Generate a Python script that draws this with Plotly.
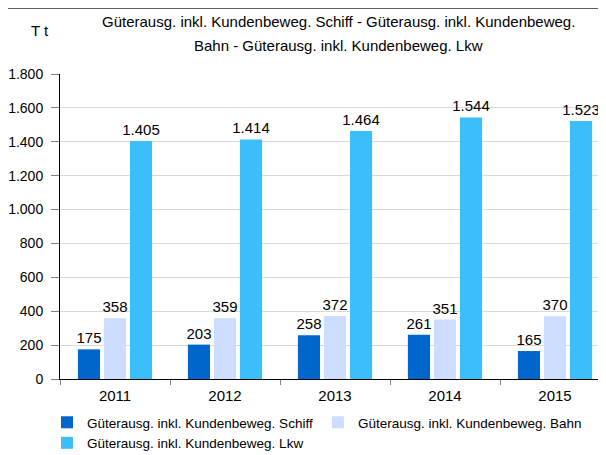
import plotly.graph_objects as go

years = ["2011", "2012", "2013", "2014", "2015"]
schiff = [175, 203, 258, 261, 165]
bahn = [358, 359, 372, 351, 370]
lkw = [1405, 1414, 1464, 1544, 1523]
names = ["Güterausg. inkl. Kundenbeweg. Schiff",
         "Güterausg. inkl. Kundenbeweg. Bahn",
         "Güterausg. inkl. Kundenbeweg. Lkw"]
title_lines = ["Güterausg. inkl. Kundenbeweg. Schiff - Güterausg. inkl. Kundenbeweg.",
               "Bahn - Güterausg. inkl. Kundenbeweg. Lkw"]
unit = "T t"
colors = ["#0066CC", "#CCDDFF", "#3CBEFA"]

FONT = "Liberation Sans, Arial, sans-serif"

OFF = 8  # page body margin offset
W, H = 606 - OFF, 455 - OFF
L, R, T, B = 60 - OFF, 0, 74 - OFF, 76
pw, ph = W - L - R, H - T - B

def px(x):  # screen x -> paper
    return (x - OFF - L) / pw

def py(y):  # screen y -> paper
    return (H - B - (y - OFF)) / ph

fig = go.Figure()
for name, vals, col in zip(names, [schiff, bahn, lkw], colors):
    fig.add_trace(go.Bar(
        x=years, y=vals, name=name,
        marker=dict(color=col, line=dict(width=10, color="rgba(0,0,0,0)")),
        texttemplate="%{y:,}", textposition="outside", constraintext="none",
        textfont=dict(size=15, color="black", family=FONT),
        cliponaxis=False,
    ))

annotations = [dict(text=unit, x=px(40), y=py(30), xref="paper", yref="paper",
                    xanchor="center", yanchor="middle",
                    showarrow=False, font=dict(size=15, family=FONT))]
for i, line in enumerate(title_lines):
    annotations.append(dict(text=line, x=px(338), y=py(22 + 23 * i), xref="paper", yref="paper",
                            xanchor="center", yanchor="middle", showarrow=False,
                            font=dict(size=15, family=FONT)))

fig.update_layout(
    width=W, height=H,
    margin=dict(l=L, r=R, t=T, b=B, pad=0, autoexpand=False),
    paper_bgcolor="white", plot_bgcolor="white",
    separators=",.",
    barmode="group", bargap=0.29, bargroupgap=0.15,
    font=dict(family=FONT, size=15, color="black"),
    xaxis=dict(range=[-0.5, -0.5 + pw / 110], showline=True, linecolor="black", linewidth=1,
               ticks="outside", tickson="boundaries", ticklen=5, tickcolor="#808080",
               tickfont=dict(size=15), ticklabelstandoff=3, showgrid=False, fixedrange=True),
    yaxis=dict(range=[0, 1800], dtick=200, tickformat=",", showline=True, linecolor="black",
               linewidth=1, ticks="outside", ticklen=8, tickcolor="#808080",
               ticklabelstandoff=5,
               gridcolor="#D9D9D9", gridwidth=1, tickfont=dict(size=14), zeroline=False),
    legend=dict(orientation="h", x=px(47), xanchor="left", y=py(407), yanchor="top",
                font=dict(size=13.5, family=FONT), itemwidth=30, tracegroupgap=0,
                itemsizing="constant"),
    showlegend=True,
    annotations=annotations,
    shapes=[
        dict(type="line", xref="paper", yref="paper", x0=px(7), x1=px(620), y0=py(8), y1=py(8),
             line=dict(color="#606060", width=2)),
        dict(type="line", xref="paper", yref="paper", x0=px(7), x1=px(7), y0=py(8), y1=py(470),
             line=dict(color="#606060", width=2)),
    ],
)

fig.write_html("out.html")
